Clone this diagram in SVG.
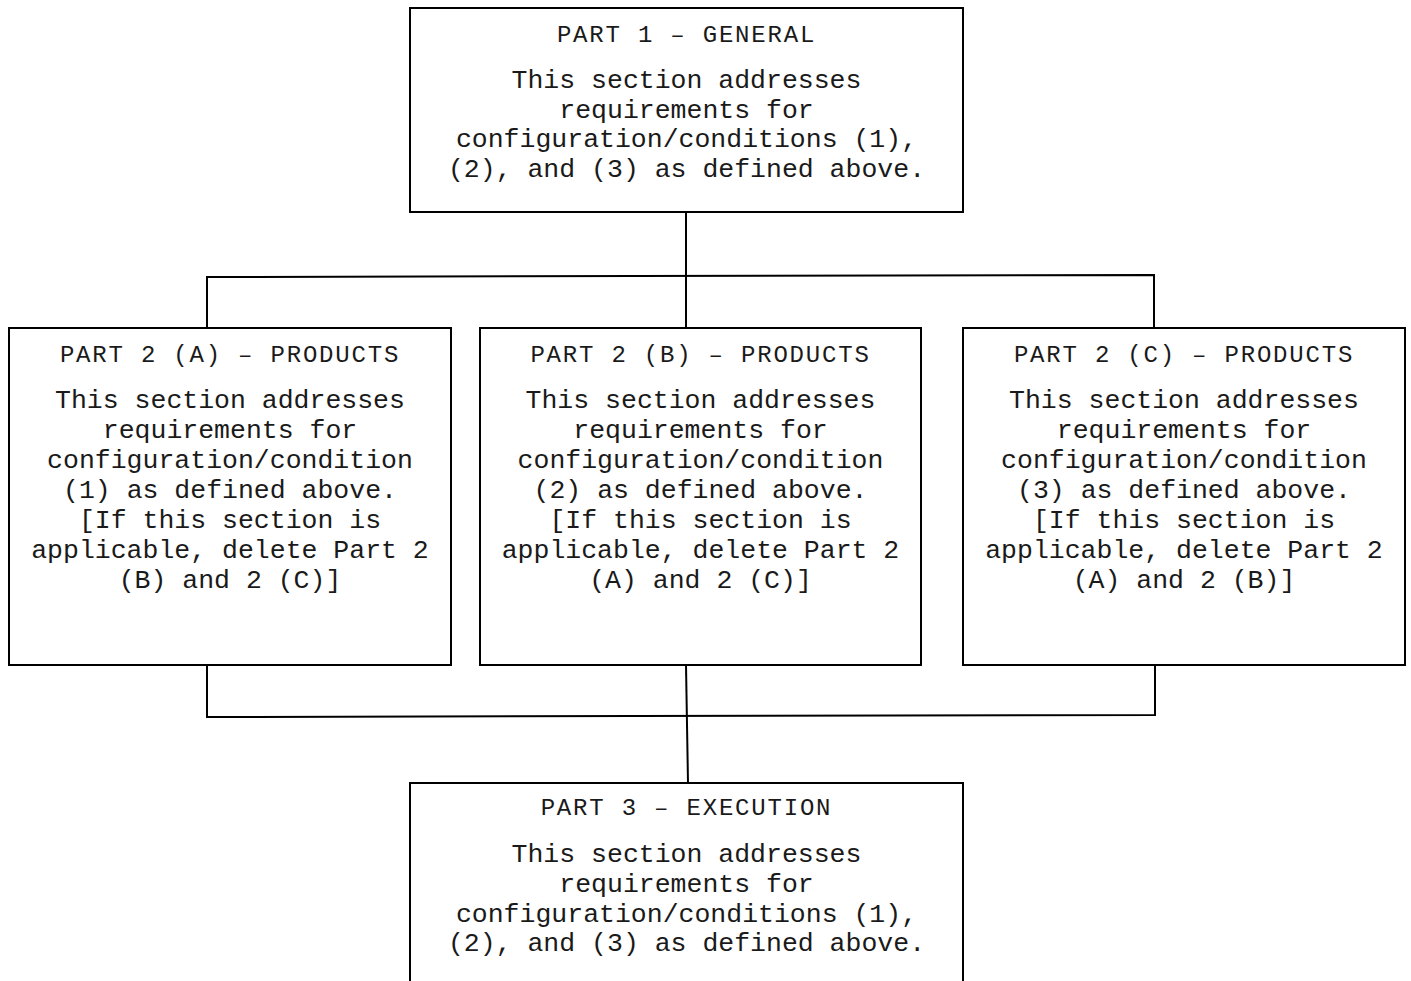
<svg xmlns="http://www.w3.org/2000/svg" width="1411" height="981" viewBox="0 0 1411 981">
<style>
.box{fill:#fff;stroke:#000;stroke-width:2}
.ln{fill:none;stroke:#000;stroke-width:2}
text{font-family:"Liberation Mono","Courier New",monospace;fill:#1a1a1a;text-anchor:middle}
.t{font-size:24px;letter-spacing:1.8px}
.b{font-size:26.5px}
</style>
<rect width="1411" height="981" fill="#fff"/>
<g id="connectors">
<path class="ln" d="M686,212 V276"/>
<path class="ln" d="M207,328 V277 L1154,275 V328"/>
<path class="ln" d="M686,276 V328"/>
<path class="ln" d="M207,665 V717 L1155,715 V662"/>
<path class="ln" d="M686,665 L688,783"/>
</g>
<g id="part1">
<rect class="box" x="410" y="8" width="553" height="204"/>
<text class="t" x="686.5" y="42">PART 1 – GENERAL</text>
<text class="b" x="686.5" y="88">This section addresses</text>
<text class="b" x="686.5" y="118">requirements for</text>
<text class="b" x="686.5" y="147">configuration/conditions (1),</text>
<text class="b" x="686.5" y="177">(2), and (3) as defined above.</text>
</g>
<g id="part2a">
<rect class="box" x="9" y="328" width="442" height="337"/>
<text class="t" x="230" y="362">PART 2 (A) – PRODUCTS</text>
<text class="b" x="230" y="408">This section addresses</text>
<text class="b" x="230" y="438">requirements for</text>
<text class="b" x="230" y="468">configuration/condition</text>
<text class="b" x="230" y="498">(1) as defined above.</text>
<text class="b" x="230" y="528">[If this section is</text>
<text class="b" x="230" y="558">applicable, delete Part 2</text>
<text class="b" x="230" y="588">(B) and 2 (C)]</text>
</g>
<g id="part2b">
<rect class="box" x="480" y="328" width="441" height="337"/>
<text class="t" x="700.5" y="362">PART 2 (B) – PRODUCTS</text>
<text class="b" x="700.5" y="408">This section addresses</text>
<text class="b" x="700.5" y="438">requirements for</text>
<text class="b" x="700.5" y="468">configuration/condition</text>
<text class="b" x="700.5" y="498">(2) as defined above.</text>
<text class="b" x="700.5" y="528">[If this section is</text>
<text class="b" x="700.5" y="558">applicable, delete Part 2</text>
<text class="b" x="700.5" y="588">(A) and 2 (C)]</text>
</g>
<g id="part2c">
<rect class="box" x="963" y="328" width="442" height="337"/>
<text class="t" x="1184" y="362">PART 2 (C) – PRODUCTS</text>
<text class="b" x="1184" y="408">This section addresses</text>
<text class="b" x="1184" y="438">requirements for</text>
<text class="b" x="1184" y="468">configuration/condition</text>
<text class="b" x="1184" y="498">(3) as defined above.</text>
<text class="b" x="1184" y="528">[If this section is</text>
<text class="b" x="1184" y="558">applicable, delete Part 2</text>
<text class="b" x="1184" y="588">(A) and 2 (B)]</text>
</g>
<g id="part3">
<rect class="box" x="410" y="783" width="553" height="210"/>
<text class="t" x="686.5" y="815">PART 3 – EXECUTION</text>
<text class="b" x="686.5" y="862">This section addresses</text>
<text class="b" x="686.5" y="892">requirements for</text>
<text class="b" x="686.5" y="922">configuration/conditions (1),</text>
<text class="b" x="686.5" y="951">(2), and (3) as defined above.</text>
</g>
</svg>
